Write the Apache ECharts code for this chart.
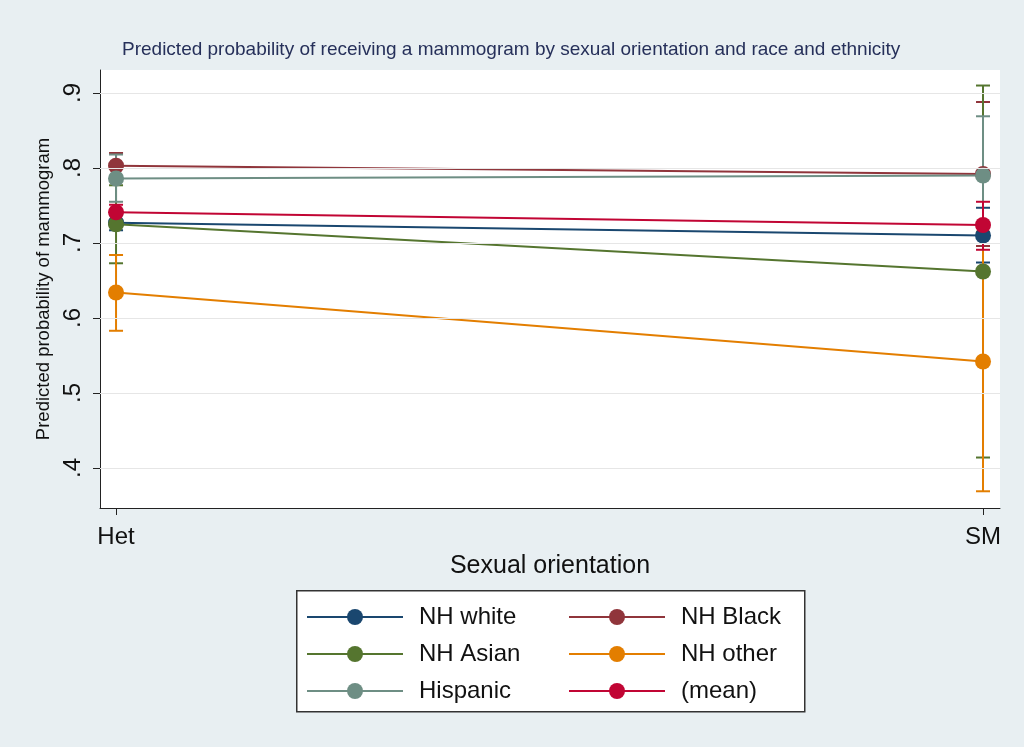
<!DOCTYPE html>
<html>
<head>
<meta charset="utf-8">
<script src="https://cdn.jsdelivr.net/npm/echarts@6.0.0/dist/echarts.min.js"></script>
<style>
    html, body { margin: 0; padding: 0; background: #e8eff2; }
    #myChart { width: 1024px; height: 747px; }
</style>
</head>
<body>
<div id="myChart"></div>
<script>
// x positions: Het = 0, SM = 1
const categories = ['Het', 'SM']
const seriesNames = ['NH white', 'NH Black', 'NH Asian', 'NH other', 'Hispanic', '(mean)']
const colorList = ['#1a476f', '#90353b', '#55752f', '#e37e00', '#6e8e84', '#c10534']

// predicted probabilities, one array per group (Het, SM)
const nhWhite = [0.727, 0.710]
const nhBlack = [0.803, 0.792]
const nhAsian = [0.725, 0.662]
const nhOther = [0.634, 0.542]
const hispanic = [0.786, 0.790]
const meanAll = [0.741, 0.724]

// 95% CI bounds, [Het, SM]
const nhWhiteLo = [0.717, 0.674]
const nhWhiteHi = [0.737, 0.747]
const nhBlackLo = [0.786, 0.696]
const nhBlackHi = [0.820, 0.888]
const nhAsianLo = [0.673, 0.414]
const nhAsianHi = [0.777, 0.910]
const nhOtherLo = [0.583, 0.369]
const nhOtherHi = [0.684, 0.715]
const hispanicLo = [0.755, 0.711]
const hispanicHi = [0.818, 0.869]
const meanLo = [0.731, 0.691]
const meanHi = [0.751, 0.755]

const yTicks = [0.4, 0.5, 0.6, 0.7, 0.8, 0.9]
const yTickLabels = ['.4', '.5', '.6', '.7', '.8', '.9']

const estimates = [nhWhite, nhBlack, nhAsian, nhOther, hispanic, meanAll]
const lows = [nhWhiteLo, nhBlackLo, nhAsianLo, nhOtherLo, hispanicLo, meanLo]
const highs = [nhWhiteHi, nhBlackHi, nhAsianHi, nhOtherHi, hispanicHi, meanHi]

const font = '"Liberation Sans", Arial, Helvetica, sans-serif'

function renderCap (params, api) {
    const x = api.value(0)
    const lo = api.coord([x, api.value(1)])
    const hi = api.coord([x, api.value(2)])
    const half = 7
    const style = { stroke: api.visual('color'), lineWidth: 2 }
    return {
        type: 'group',
        children: [
            { type: 'line', shape: { x1: lo[0], y1: lo[1], x2: hi[0], y2: hi[1] }, style: style },
            { type: 'line', shape: { x1: hi[0] - half, y1: hi[1], x2: hi[0] + half, y2: hi[1] }, style: style },
            { type: 'line', shape: { x1: lo[0] - half, y1: lo[1], x2: lo[0] + half, y2: lo[1] }, style: style }
        ]
    }
}

let series = [{
    name: 'grid',
    type: 'line',
    data: [],
    silent: true,
    z: 1,
    markLine: {
        silent: true,
        animation: false,
        symbol: ['none', 'none'],
        label: { show: false },
        lineStyle: { color: '#e6e6e6', type: 'solid', width: 1 },
        data: yTicks.map(function (v) { return { yAxis: v } })
    }
}]

// CI caps first so the lines and markers sit on top
seriesNames.forEach(function (name, i) {
    series.push({
        name: name + ' CI',
        type: 'custom',
        renderItem: renderCap,
        itemStyle: { color: colorList[i] },
        z: 2,
        data: categories.map(function (c, j) { return [j, lows[i][j], highs[i][j]] })
    })
})

seriesNames.forEach(function (name, i) {
    series.push({
        name: name,
        type: 'line',
        symbol: 'circle',
        symbolSize: 16,
        z: 3,
        lineStyle: { color: colorList[i], width: 2 },
        itemStyle: { color: colorList[i] },
        data: categories.map(function (c, j) { return [j, estimates[i][j]] })
    })
})

const legendText = { fontSize: 24, color: '#111', fontFamily: font, padding: [0, 0, 0, 11] }

const myChart = echarts.init(document.getElementById('myChart'))
myChart.setOption({
    animation: false,
    backgroundColor: '#e8eff2',
    textStyle: { fontFamily: font },
    title: {
        text: 'Predicted probability of receiving a mammogram by sexual orientation and race and ethnicity',
        left: 117,
        top: 35,
        textStyle: { fontSize: 19, fontWeight: 'normal', color: '#26305a', fontFamily: font }
    },
    grid: {
        left: 100,
        right: 24,
        top: 70,
        bottom: 239,
        show: true,
        backgroundColor: '#ffffff',
        borderWidth: 0,
        containLabel: false,
        outerBoundsMode: 'none'
    },
    legend: [{
        orient: 'vertical',
        left: 301,
        top: 600,
        itemWidth: 96,
        itemHeight: 20,
        itemGap: 13,
        data: [seriesNames[0], seriesNames[2], seriesNames[4]],
        textStyle: legendText
    }, {
        orient: 'vertical',
        left: 563,
        top: 600,
        itemWidth: 96,
        itemHeight: 20,
        itemGap: 13,
        data: [seriesNames[1], seriesNames[3], seriesNames[5]],
        textStyle: legendText
    }],
    graphic: [{
        type: 'rect',
        left: 296,
        top: 590,
        z: -1,
        shape: { width: 508, height: 121 },
        style: { fill: '#ffffff', stroke: '#333333', lineWidth: 1.5 }
    }],
    xAxis: {
        type: 'value',
        min: -0.0185,
        max: 1.0196,
        name: 'Sexual orientation',
        nameLocation: 'middle',
        nameGap: 44,
        nameTextStyle: { fontSize: 25, color: '#111', fontFamily: font },
        axisLine: { onZero: false, lineStyle: { color: '#222', width: 1 } },
        axisTick: { show: true, length: 7, customValues: [0, 1], lineStyle: { color: '#222' } },
        axisLabel: {
            customValues: [0, 1],
            margin: 17,
            fontSize: 24,
            color: '#111',
            formatter: function (v) { return categories[Math.round(v)] }
        },
        splitLine: { show: false }
    },
    yAxis: {
        type: 'value',
        min: 0.3467,
        max: 0.9307,
        name: 'Predicted probability of mammogram',
        nameLocation: 'middle',
        nameGap: 41,
        nameTextStyle: { fontSize: 18.5, color: '#111', fontFamily: font },
        axisLine: { show: true, onZero: false, lineStyle: { color: '#222', width: 1 } },
        axisTick: { show: true, length: 7, customValues: yTicks, lineStyle: { color: '#222' } },
        axisLabel: {
            customValues: yTicks,
            rotate: 90,
            margin: 15,
            fontSize: 24,
            color: '#111',
            formatter: function (v) { return yTickLabels[yTicks.indexOf(Math.round(v * 10) / 10)] }
        },
        splitLine: { show: false }
    },
    series: series
})
</script>
</body>
</html>
